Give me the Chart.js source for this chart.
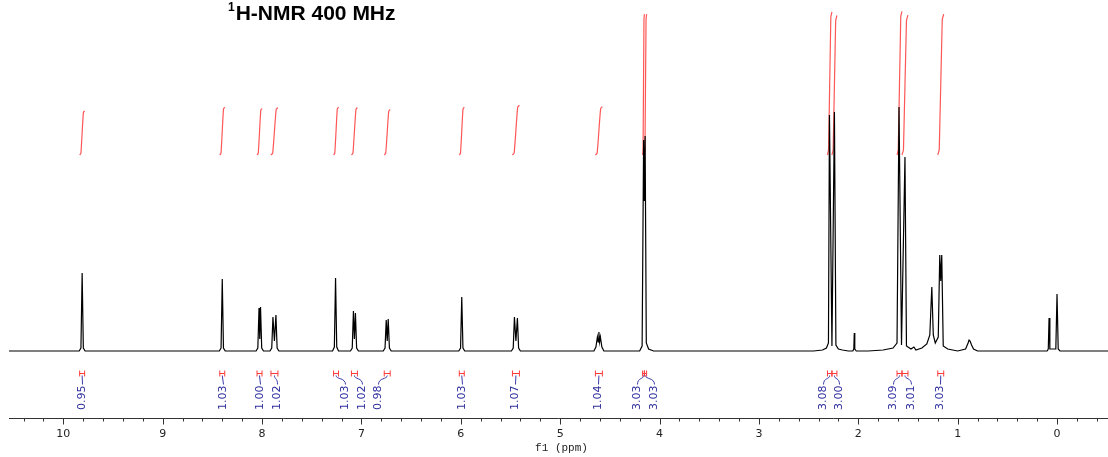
<!DOCTYPE html>
<html>
<head>
<meta charset="utf-8">
<script src="https://cdn.jsdelivr.net/npm/chart.js@4.4.1/dist/chart.umd.min.js"></script>
<style>
  html, body { margin: 0; padding: 0; background: #fff; }
  #wrap { position: relative; width: 1108px; height: 457px; }
  #title {
    position: absolute; left: 228px; top: 1px;
    font: bold 21px "Liberation Sans", Arial, sans-serif; color: #000;
    white-space: nowrap;
  }
  #title sup { font-size: 12px; position: relative; top: -1px; margin-right: 1px; }
</style>
</head>
<body>
<div id="wrap">
  <canvas id="c" width="1108" height="457"></canvas>
  <div id="title"><sup>1</sup>H-NMR 400 MHz</div>
</div>
<script>
// 1H spectrum trace: chemical shift (ppm) and intensity (arbitrary units)
const shift = [
  10.55, 9.84, 9.822, 9.81, 9.798, 9.78,
  8.43, 8.412, 8.40, 8.388, 8.37,
  8.06, 8.042, 8.030, 8.0225, 8.015, 8.003, 7.985,
  7.92, 7.902, 7.89, 7.875, 7.86, 7.848, 7.83,
  7.29, 7.272, 7.26, 7.248, 7.23,
  7.11, 7.092, 7.08, 7.07, 7.06, 7.048, 7.03,
  6.78, 6.762, 6.75, 6.74, 6.73, 6.718, 6.70,
  6.02, 6.002, 5.99, 5.978, 5.96,
  5.49, 5.472, 5.46, 5.445, 5.43, 5.418, 5.40,
  4.66, 4.64, 4.625, 4.617, 4.61, 4.603, 4.595, 4.58, 4.56,
  4.20, 4.175, 4.16, 4.152, 4.145, 4.133, 4.11, 4.06,
  2.45, 2.36, 2.32, 2.30, 2.29, 2.265, 2.24, 2.225, 2.20, 2.16, 2.10,
  2.055, 2.045, 2.04, 2.035, 2.02,
  1.90, 1.75, 1.65, 1.61, 1.59, 1.565, 1.53, 1.515, 1.47, 1.44, 1.42,
  1.36, 1.31, 1.28, 1.26, 1.245, 1.225, 1.195, 1.18, 1.17, 1.16, 1.145, 1.10, 1.00,
  0.92, 0.895, 0.885, 0.875, 0.86, 0.84, 0.80,
  0.10, 0.088, 0.08, 0.072, 0.012, 0.00, -0.012, -0.03, -0.52
];
const intensity = [
  0, 0, 3, 78, 3, 0,
  0, 3, 72, 3, 0,
  0, 3, 43, 12, 44, 3, 0,
  0, 3, 34, 10, 36, 3, 0,
  0, 4, 73, 4, 0,
  0, 3, 40, 12, 38, 3, 0,
  0, 3, 31, 10, 32, 3, 0,
  0, 3, 54, 3, 0,
  0, 3, 34, 10, 33, 3, 0,
  0, 4, 14, 9, 19, 9, 14, 4, 0,
  0, 5, 211, 150, 215, 8, 2, 0,
  0, 1, 3, 8, 236, 5, 239, 6, 2, 1, 0,
  0, 2, 18, 2, 0,
  0, 1, 3, 8, 244, 6, 194, 5, 2, 4, 1,
  3, 7, 16, 64, 16, 8, 14, 96, 70, 96, 5, 2, 0,
  2, 8, 11, 10, 6, 2, 0,
  0, 2, 33, 2, 2, 57, 2, 0, 0
];

// Integration regions (ppm), integral values and where each value label sits
const intFrom   = [9.835, 8.425, 8.05, 7.91, 7.28, 7.10, 6.77, 6.015, 5.48, 4.645, 4.17, 4.152, 2.31, 2.265, 1.61, 1.56, 1.20];
const intTo     = [9.785, 8.375, 8.00, 7.84, 7.23, 7.04, 6.71, 5.965, 5.41, 4.575, 4.152, 4.13, 2.265, 2.215, 1.56, 1.50, 1.14];
const intValue  = [0.95, 1.03, 1.00, 1.02, 1.03, 1.02, 0.98, 1.03, 1.07, 1.04, 3.03, 3.03, 3.08, 3.00, 3.09, 3.01, 3.03];
const intLabelAt = [9.81, 8.39, 8.02, 7.85, 7.16, 6.99, 6.83, 5.99, 5.45, 4.62, 4.23, 4.06, 2.35, 2.19, 1.65, 1.47, 1.18];

// Axis
const majorTicks = [10, 9, 8, 7, 6, 5, 4, 3, 2, 1, 0];
const tickLabels = ['10', '9', '8', '7', '6', '5', '4', '3', '2', '1', '0'];
const axisTitle = 'f1 (ppm)';

const X_MIN = -0.513, X_MAX = 10.546;
const INT_BASE = 196;      // level where integral curves start
const INT_PER_H = 46.5;    // integral height per unit
const BRACKET_Y = -22;     // level of the integration brackets

const spectrum = shift.map((x, i) => ({ x, y: intensity[i] }));

// integral curves: gentle hooks at both ends, rising across the region
const integralSets = intValue.map((v, i) => {
  const a = intFrom[i], b = intTo[i], w = a - b, h = v * INT_PER_H;
  return {
    data: [
      { x: a, y: INT_BASE },
      { x: a - 0.25 * w, y: INT_BASE + 0.04 * h },
      { x: b + 0.25 * w, y: INT_BASE + 0.96 * h },
      { x: b, y: INT_BASE + h }
    ],
    borderColor: 'rgba(255,30,30,0.75)',
    borderWidth: 1.2,
    pointRadius: 0,
    tension: 0.2
  };
});

const annotate = {
  id: 'annotate',
  afterDatasetsDraw(chart) {
    const ctx = chart.ctx;
    const xs = chart.scales.x, ys = chart.scales.y;
    const area = chart.chartArea;
    const yb = Math.round(ys.getPixelForValue(BRACKET_Y)) + 0.5;
    ctx.save();

    // integration brackets, connectors and values
    intValue.forEach((v, i) => {
      const x1 = xs.getPixelForValue(intFrom[i]);
      const x2 = xs.getPixelForValue(intTo[i]);
      const xm = (x1 + x2) / 2;
      const xl = Math.round(xs.getPixelForValue(intLabelAt[i])) + 0.5;
      ctx.strokeStyle = '#ff3a3a';
      ctx.lineWidth = 1;
      ctx.beginPath();
      ctx.moveTo(x1, yb); ctx.lineTo(x2, yb);
      ctx.moveTo(x1, yb - 3); ctx.lineTo(x1, yb + 3);
      ctx.moveTo(x2, yb - 3); ctx.lineTo(x2, yb + 3);
      ctx.stroke();

      const yt = yb + 11;
      ctx.strokeStyle = '#3a3aa8';
      ctx.beginPath();
      ctx.moveTo(xm, yb + 2);
      if (Math.abs(xl - xm) < 1.5) {
        ctx.lineTo(xl, yt);
      } else {
        ctx.bezierCurveTo(xm, yb + 6, xl, yb + 4, xl, yt);
      }
      ctx.stroke();

      ctx.save();
      ctx.translate(xl, yt + 1);
      ctx.rotate(-Math.PI / 2);
      ctx.fillStyle = '#2e2e9e';
      ctx.font = '11px "DejaVu Sans", Tahoma, sans-serif';
      ctx.textAlign = 'right';
      ctx.textBaseline = 'middle';
      ctx.fillText(v.toFixed(2), 0, 0);
      ctx.restore();
    });

    // x axis
    const ya = area.bottom + 0.5;
    ctx.strokeStyle = '#333';
    ctx.lineWidth = 1;
    ctx.beginPath();
    ctx.moveTo(area.left, ya); ctx.lineTo(area.right, ya);
    for (let k = -2; k <= 52; k++) {
      const v = k / 5;
      if (v < X_MIN || v > X_MAX) continue;
      const px = Math.round(xs.getPixelForValue(v)) + 0.5;
      const major = k % 5 === 0;
      ctx.moveTo(px, ya); ctx.lineTo(px, ya + (major ? 6 : 3));
    }
    ctx.stroke();

    ctx.fillStyle = '#222';
    ctx.font = '11px "DejaVu Sans", Tahoma, sans-serif';
    ctx.textAlign = 'center';
    ctx.textBaseline = 'middle';
    majorTicks.forEach((v, i) => {
      ctx.fillText(tickLabels[i], xs.getPixelForValue(v), ya + 16);
    });
    ctx.font = '11px "Liberation Mono", "Courier New", monospace';
    ctx.fillText(axisTitle, (area.left + area.right) / 2 + 3, ya + 30);
    ctx.restore();
  }
};

new Chart(document.getElementById('c'), {
  type: 'line',
  data: {
    datasets: [{
      data: spectrum,
      borderColor: '#000',
      borderWidth: 1.2,
      pointRadius: 0,
      tension: 0
    }].concat(integralSets)
  },
  options: {
    responsive: false,
    animation: false,
    layout: { padding: { left: 9, right: 0, top: 0, bottom: 39 } },
    scales: {
      x: { type: 'linear', reverse: true, min: X_MIN, max: X_MAX, display: false },
      y: { type: 'linear', min: -67, max: 351, display: false }
    },
    plugins: { legend: { display: false }, tooltip: { enabled: false } },
    events: []
  },
  plugins: [annotate]
});
</script>
</body>
</html>
